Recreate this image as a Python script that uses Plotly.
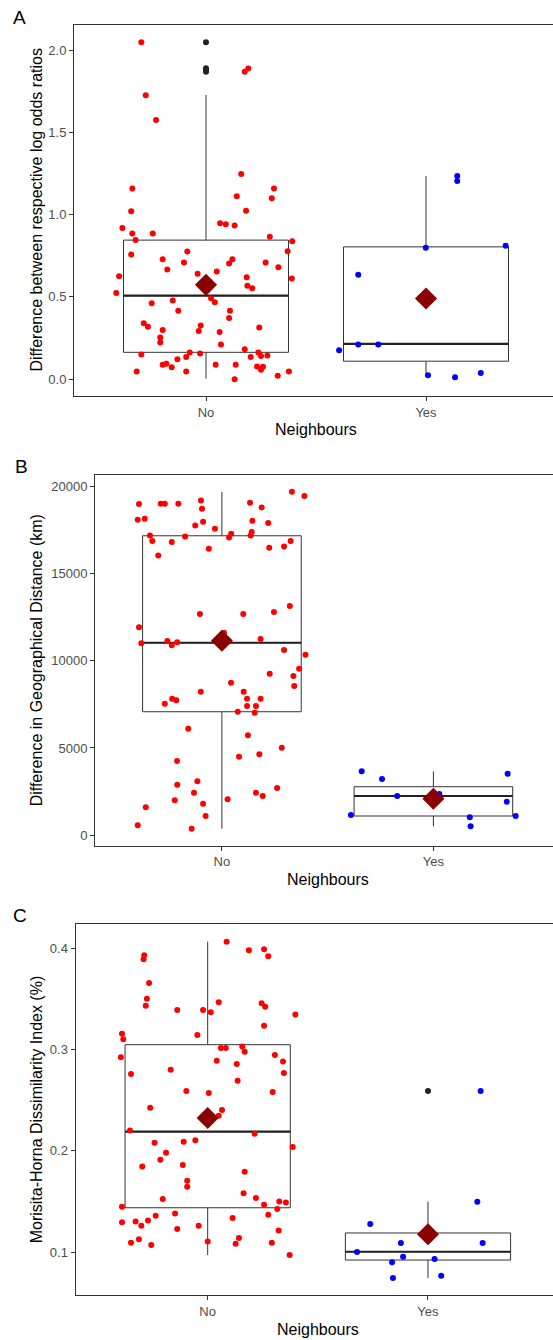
import plotly.graph_objects as go

W, H = 553, 1340

categories = ["No", "Yes"]
cat_pos = [1, 2]

# ---------------- Panel A : difference between log odds ratios ----------------
a_no_jit = [-0.294, -0.274, -0.227, -0.335, 0.160, 0.176, 0.192, 0.309, 0.140, 0.299,
            -0.340, -0.380, -0.335, -0.242, -0.320, -0.340, -0.395, -0.408, -0.247, -0.197,
            -0.176, -0.085, -0.100, -0.151, -0.126, -0.283, -0.264, -0.197, -0.208, -0.208,
            -0.294, -0.315, -0.197, -0.180, -0.156, -0.130, -0.090, -0.074, -0.090, -0.027,
            -0.033, -0.024, -0.038, 0.023, 0.040, 0.049, 0.062, 0.068, 0.044, 0.105,
            0.109, 0.105, 0.120, 0.135, 0.130, 0.064, 0.090, 0.130, 0.182, 0.185,
            0.188, 0.210, 0.176, 0.203, 0.242, 0.238, 0.250, 0.279, 0.232, 0.250,
            0.259, 0.326, 0.377, 0.290, 0.271, 0.329, 0.371, 0.392, 0.390]
a_no_val = [2.047, 1.725, 1.575, 1.159, 1.247, 1.869, 1.888, 1.159, 1.112, 1.100,
            1.021, 0.919, 0.885, 0.885, 0.845, 0.757, 0.626, 0.524, 0.462, 0.729,
            0.666, 0.776, 0.709, 0.478, 0.415, 0.340, 0.318, 0.298, 0.253, 0.223,
            0.150, 0.047, 0.087, 0.093, 0.073, 0.121, 0.135, 0.162, 0.047, 0.156,
            0.292, 0.326, 0.640, 0.492, 0.468, 0.654, 0.286, 0.211, 0.087, 0.372,
            0.415, 0.703, 0.729, 0.087, 0.000, 0.948, 0.942, 0.934, 1.023, 0.620,
            0.567, 0.553, 0.182, 0.135, 0.314, 0.162, 0.140, 0.144, 0.077, 0.057,
            0.075, 0.020, 0.047, 0.865, 0.709, 0.680, 0.778, 0.838, 0.612]
a_yes_jit = [0.142, 0.142, -0.001, 0.362, -0.308, -0.308, -0.217, -0.395, 0.009, 0.132, 0.249]
a_yes_val = [1.235, 1.205, 0.798, 0.810, 0.634, 0.211, 0.211, 0.176, 0.024, 0.012, 0.038]
a_q1 = [0.163, 0.109]
a_med = [0.507, 0.214]
a_q3 = [0.845, 0.804]
a_lo = [0.004, 0.012]
a_hi = [1.727, 1.235]
a_mean = [0.573, 0.490]
a_out_cat = [1, 1, 1, 1]
a_out_val = [2.047, 1.889, 1.879, 1.869]
a_ticks = [0.0, 0.5, 1.0, 1.5, 2.0]

# ---------------- Panel B : geographical distance ----------------
b_no_jit = [-0.392, -0.398, -0.365, -0.340, -0.329, -0.301, -0.289, -0.270, -0.206, -0.237,
            -0.174, -0.126, -0.099, -0.094, -0.089, -0.062, -0.033, 0.034, 0.044, 0.133,
            0.188, 0.144, 0.141, 0.136, 0.219, 0.224, 0.294, 0.325, 0.331, 0.390,
            -0.104, 0.101, 0.246, 0.321, -0.392, -0.381, -0.258, -0.237, -0.211, 0.010,
            0.183, 0.294, 0.365, 0.395, 0.226, 0.338, 0.342, 0.043, -0.100, -0.270,
            -0.235, -0.216, 0.103, 0.119, 0.183, 0.119, 0.161, 0.075, 0.155, -0.159,
            0.123, 0.283, 0.081, 0.177, -0.212, -0.116, -0.211, -0.132, -0.223, -0.089,
            -0.077, 0.027, 0.161, 0.193, 0.261, -0.360, -0.398, -0.143]
b_no_val = [18964, 18065, 18122, 17172, 16845, 16027, 18981, 18981, 18981, 16789,
            17115, 17745, 19175, 18695, 17951, 16405, 17550, 17058, 17264, 19038,
            18775, 18008, 17361, 17172, 17876, 16462, 16543, 16845, 19668, 19422,
            12667, 12667, 12782, 13125, 11906, 10990, 11122, 10876, 11047, 11597,
            11236, 10607, 9540, 10338, 9250, 9118, 8546, 8735, 8220, 7533,
            7819, 7727, 8220, 7819, 7819, 7401, 7401, 7075, 7018, 6102,
            5724, 5014, 4499, 4636, 4253, 3091, 2896, 2438, 2003, 1809,
            1105, 2061, 2438, 2250, 2707, 1603, 572, 378]
b_yes_jit = [-0.339, -0.243, -0.171, 0.028, -0.390, 0.172, 0.176, 0.351, 0.347, 0.389]
b_yes_val = [3663, 3222, 2250, 2364, 1162, 1030, 515, 3526, 1923, 1105]
b_q1 = [7075, 1105]
b_med = [11025, 2250]
b_q3 = [17150, 2782]
b_lo = [378, 515]
b_hi = [19668, 3663]
b_mean = [11139, 2095]
b_ticks = [0, 5000, 10000, 15000, 20000]

# ---------------- Panel C : Morisita-Horna dissimilarity ----------------
c_no_jit = [-0.288, -0.291, -0.266, -0.276, -0.281, -0.138, -0.021, 0.014, 0.050, 0.086,
            0.187, 0.256, 0.275, 0.245, 0.261, 0.256, 0.398, -0.389, -0.383, -0.047,
            -0.394, -0.348, -0.168, 0.060, 0.082, 0.157, 0.168, 0.041, 0.132, 0.305,
            0.342, 0.346, 0.136, -0.097, 0.005, 0.295, -0.261, 0.065, 0.050, -0.353,
            0.213, -0.241, -0.109, -0.056, 0.386, -0.189, -0.215, -0.113, -0.297, 0.168,
            -0.093, -0.093, 0.163, -0.204, 0.219, 0.325, 0.355, 0.256, -0.389, 0.316,
            -0.148, -0.236, 0.275, 0.113, -0.389, -0.327, -0.271, -0.301, -0.138, -0.041,
            0.322, 0.142, -0.348, -0.312, -0.256, 0.000, 0.127, 0.291, 0.372]
c_no_val = [0.3928, 0.3888, 0.3655, 0.3500, 0.3431, 0.3389, 0.3389, 0.3365, 0.3464, 0.4063,
            0.3977, 0.3987, 0.3918, 0.3454, 0.3421, 0.3234, 0.3343, 0.3155, 0.3099, 0.3142,
            0.2921, 0.2757, 0.2800, 0.3014, 0.3014, 0.3027, 0.2977, 0.2888, 0.2856, 0.2945,
            0.2879, 0.2767, 0.2691, 0.2589, 0.2570, 0.2580, 0.2424, 0.2402, 0.2345, 0.2200,
            0.2168, 0.2079, 0.2089, 0.2102, 0.2036, 0.1980, 0.1911, 0.1860, 0.1845, 0.1793,
            0.1704, 0.1645, 0.1579, 0.1523, 0.1533, 0.1499, 0.1489, 0.1467, 0.1447, 0.1424,
            0.1381, 0.1358, 0.1368, 0.1336, 0.1293, 0.1302, 0.1312, 0.1260, 0.1227, 0.1260,
            0.1213, 0.1138, 0.1092, 0.1125, 0.1069, 0.1105, 0.1082, 0.1092, 0.0970]
c_yes_jit = [0.239, 0.224, -0.262, -0.123, 0.248, -0.322, -0.113, -0.163, 0.030, -0.159, 0.060]
c_yes_val = [0.259, 0.1497, 0.1276, 0.1089, 0.1089, 0.1000, 0.0954, 0.0898, 0.0931, 0.0743, 0.0766]
c_q1 = [0.1437, 0.0921]
c_med = [0.2188, 0.1003]
c_q3 = [0.3046, 0.1188]
c_lo = [0.0970, 0.0743]
c_hi = [0.4063, 0.1497]
c_mean = [0.2323, 0.1175]
c_out_cat = [2]
c_out_val = [0.259]
c_ticks = [0.1, 0.2, 0.3, 0.4]

y_titles = ["Difference between respective log odds ratios",
            "Difference in Geographical Distance (km)",
            "Morisita-Horna Dissimilarity Index (%)"]
x_title = "Neighbours"
tags = ["A", "B", "C"]

# ---------------- styling / layout (pixels) ----------------
FONT = "Liberation Sans, Arial, sans-serif"
LINE = "#333333"
TICKC = "#4D4D4D"
BOXW = 0.75
panels = [
    dict(left=74.0, spacing=220.0, top=25.0, bottom=396.0, yr=[-0.1025, 2.1525], fmt=".1f",
         ticks=a_ticks, no=(a_no_jit, a_no_val), yes=(a_yes_jit, a_yes_val),
         q1=a_q1, med=a_med, q3=a_q3, lo=a_lo, hi=a_hi, mean=a_mean,
         out=(a_out_cat, a_out_val), tagxy=(19.5, 17)),
    dict(left=95.0, spacing=211.5, top=475.0, bottom=845.7, yr=[-595, 20630], fmt="d",
         ticks=b_ticks, no=(b_no_jit, b_no_val), yes=(b_yes_jit, b_yes_val),
         q1=b_q1, med=b_med, q3=b_q3, lo=b_lo, hi=b_hi, mean=b_mean,
         out=([], []), tagxy=(21, 466.5)),
    dict(left=75.5, spacing=220.3, top=923.7, bottom=1295.0, yr=[0.0576, 0.4240], fmt=".1f",
         ticks=c_ticks, no=(c_no_jit, c_no_val), yes=(c_yes_jit, c_yes_val),
         q1=c_q1, med=c_med, q3=c_q3, lo=c_lo, hi=c_hi, mean=c_mean,
         out=(c_out_cat, c_out_val), tagxy=(20, 915)),
]

fig = go.Figure()
annotations = []
layout_axes = {}

for i, p in enumerate(panels):
    sfx = "" if i == 0 else str(i + 1)
    xa, ya = "x" + sfx, "y" + sfx
    # boxes
    for k, pos in enumerate(cat_pos):
        fig.add_trace(go.Box(
            x=[pos], q1=[p["q1"][k]], median=[p["med"][k]], q3=[p["q3"][k]],
            lowerfence=[p["lo"][k]], upperfence=[p["hi"][k]],
            width=BOXW, whiskerwidth=0, boxpoints=False,
            fillcolor="white", line=dict(color=LINE, width=1),
            xaxis=xa, yaxis=ya, hoverinfo="skip"))
        fig.add_trace(go.Scatter(
            x=[pos - BOXW / 2, pos + BOXW / 2], y=[p["med"][k], p["med"][k]],
            mode="lines", line=dict(color="#222222", width=2.2),
            xaxis=xa, yaxis=ya, hoverinfo="skip"))
    # outliers
    if p["out"][0]:
        fig.add_trace(go.Scatter(
            x=p["out"][0], y=p["out"][1], mode="markers",
            marker=dict(color="#222222", size=6), xaxis=xa, yaxis=ya, hoverinfo="skip"))
    # jittered points
    jn, vn = p["no"]
    fig.add_trace(go.Scatter(
        x=[cat_pos[0] + j for j in jn], y=vn, mode="markers",
        marker=dict(color="#FF0000", size=6), xaxis=xa, yaxis=ya, hoverinfo="skip"))
    jy, vy = p["yes"]
    fig.add_trace(go.Scatter(
        x=[cat_pos[1] + j for j in jy], y=vy, mode="markers",
        marker=dict(color="#0000FF", size=6), xaxis=xa, yaxis=ya, hoverinfo="skip"))
    # means
    fig.add_trace(go.Scatter(
        x=cat_pos, y=p["mean"], mode="markers",
        marker=dict(symbol="diamond", color="#8B0000", size=17, line=dict(width=0)),
        xaxis=xa, yaxis=ya, hoverinfo="skip"))

    xmax = 0.4 + (W - p["left"]) / p["spacing"]
    layout_axes["xaxis" + sfx] = dict(
        domain=[p["left"] / W, 1.0], anchor=ya, range=[0.4, xmax],
        tickmode="array", tickvals=cat_pos, ticktext=categories,
        ticks="outside", ticklen=4, tickcolor=LINE, tickwidth=1,
        tickfont=dict(family=FONT, size=13, color=TICKC),
        showline=True, linecolor=LINE, linewidth=1, mirror=True,
        showgrid=False, zeroline=False, fixedrange=True)
    layout_axes["yaxis" + sfx] = dict(
        domain=[1 - p["bottom"] / H, 1 - p["top"] / H], anchor=xa, range=p["yr"],
        tickmode="array", tickvals=p["ticks"],
        ticktext=[format(t, p["fmt"]) for t in p["ticks"]],
        ticks="outside", ticklen=4, tickcolor=LINE, tickwidth=1,
        tickfont=dict(family=FONT, size=13, color=TICKC),
        showline=True, linecolor=LINE, linewidth=1, mirror=False,
        showgrid=False, zeroline=False, fixedrange=True)

    full_right = p["left"] + 2.2 * p["spacing"]
    annotations.append(dict(
        text=x_title, x=((p["left"] + full_right) / 2) / W, y=1 - (p["bottom"] + 34) / H,
        xref="paper", yref="paper", xanchor="center", yanchor="middle", showarrow=False,
        font=dict(family=FONT, size=16, color="black")))
    annotations.append(dict(
        text=y_titles[i], x=36 / W, y=1 - ((p["top"] + p["bottom"]) / 2) / H,
        xref="paper", yref="paper", xanchor="center", yanchor="middle", showarrow=False,
        textangle=-90, font=dict(family=FONT, size=16, color="black")))
    annotations.append(dict(
        text=tags[i], x=p["tagxy"][0] / W, y=1 - p["tagxy"][1] / H,
        xref="paper", yref="paper", xanchor="center", yanchor="middle", showarrow=False,
        font=dict(family=FONT, size=19, color="black")))

fig.update_layout(
    width=W, height=H, margin=dict(l=0, r=0, t=0, b=0),
    paper_bgcolor="white", plot_bgcolor="white", showlegend=False,
    annotations=annotations, **layout_axes)

fig.write_html("out.html", config={"displayModeBar": False})
